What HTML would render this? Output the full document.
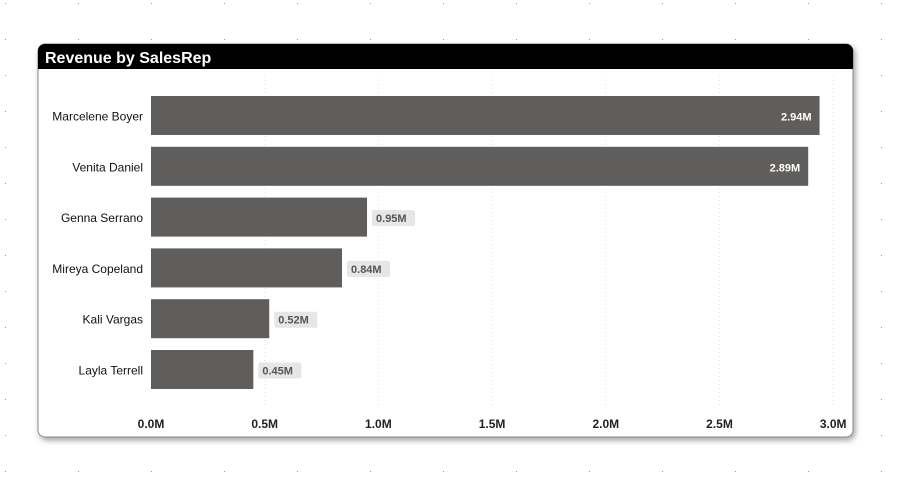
<!DOCTYPE html>
<html><head><meta charset="utf-8"><style>
html,body{margin:0;padding:0;width:912px;height:483px;overflow:hidden;background:#fff;font-family:"Liberation Sans",sans-serif}
</style></head><body>
<svg width="912" height="483" xmlns="http://www.w3.org/2000/svg">
<defs>
<pattern id="dots" width="73" height="36" patternUnits="userSpaceOnUse" x="5" y="3">
<rect x="0" y="0" width="1" height="1" fill="#999"/>
</pattern>
<filter id="sh" x="-5%" y="-5%" width="110%" height="115%"><feDropShadow dx="2" dy="3" stdDeviation="3" flood-color="#000" flood-opacity="0.35"/></filter>
</defs>
<rect width="912" height="483" fill="url(#dots)"/>
<rect x="38" y="44" width="815" height="393" rx="7" fill="#fff" stroke="#888" stroke-width="1" filter="url(#sh)"/>
<path d="M38,69 V51 a7,7 0 0 1 7,-7 H846 a7,7 0 0 1 7,7 V69 Z" fill="#000"/>
<text x="45" y="63" fill="#fff" font-size="16" font-weight="bold">Revenue by SalesRep</text>
<g id="plot"></g>
</svg>
<script>
const categories=["Marcelene Boyer","Venita Daniel","Genna Serrano","Mireya Copeland","Kali Vargas","Layla Terrell"];
const values=[2.94,2.89,0.95,0.84,0.52,0.45];
const valueLabels=["2.94M","2.89M","0.95M","0.84M","0.52M","0.45M"];
const ticks=[0,0.5,1,1.5,2,2.5,3];
const tickLabels=["0.0M","0.5M","1.0M","1.5M","2.0M","2.5M","3.0M"];
const NS="http://www.w3.org/2000/svg";
const g=document.getElementById("plot");
const x=v=>151+v*227.4;
const yTop=i=>96+i*50.8;
const bh=39;
function mk(t,a){const e=document.createElementNS(NS,t);for(const k in a)e.setAttribute(k,a[k]);g.appendChild(e);return e;}
ticks.forEach((t,i)=>{
  if(i>0){const l=mk("line",{x1:x(t),x2:x(t),y1:76,y2:405,stroke:"#e4e4e4","stroke-dasharray":"1,3"});
  
  }
  const tx=mk("text",{x:x(t),y:428,"text-anchor":"middle","font-size":"12","font-weight":"bold",fill:"#222"});
  tx.textContent=tickLabels[i];
  
  
});
categories.forEach((c,i)=>{
  const y=yTop(i);
  const lab=mk("text",{x:143,y:y+bh/2+5,"text-anchor":"end","font-size":"12",fill:"#111"});
  lab.textContent=c;
  
  
  const b=mk("rect",{x:x(0),y:y,width:x(values[i])-x(0),height:bh,fill:"#605e5c"});
  
  
  const inside=values[i]>2;
  const w=valueLabels[i].length*7+4;
  if(inside){
    const t=mk("text",{x:x(values[i])-8,y:y+bh/2+5,"text-anchor":"end","font-size":"11","font-weight":"bold",fill:"#fff"});
    t.textContent=valueLabels[i];
    
    
  }else{
    const bg=mk("rect",{x:x(values[i])+5,y:y+bh/2-7,width:w+4,height:16,rx:2,fill:"#e6e6e6"});
    
    
    const t=mk("text",{x:x(values[i])+9,y:y+bh/2+5,"font-size":"11","font-weight":"bold",fill:"#555"});
    t.textContent=valueLabels[i];
    
    
  }
});
</script>
</body></html>
